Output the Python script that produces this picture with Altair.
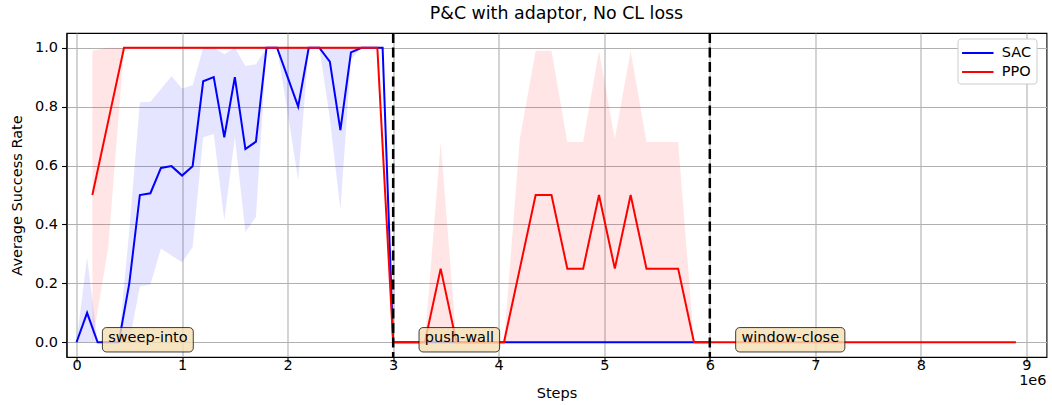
import altair as alt
import pandas as pd

# ---------------- data (steps in units of 1e6) ----------------
sac_steps = [0.0, 0.1, 0.2, 0.3, 0.4, 0.5, 0.6, 0.7, 0.8, 0.9, 1.0, 1.1, 1.2, 1.3, 1.4, 1.5,
             1.6, 1.7, 1.8, 1.9, 2.0, 2.1, 2.2, 2.3, 2.4, 2.5, 2.6, 2.7, 2.8, 2.9, 3.0, 6.0]
sac_mean = [0, 0.1, 0, 0, 0, 0.2, 0.5, 0.506, 0.592, 0.598, 0.566, 0.598, 0.886, 0.9, 0.696, 0.9,
            0.656, 0.681, 1, 1, 0.9, 0.8, 1, 1, 0.953, 0.72, 0.984, 1, 1, 1, 0, 0]
sac_low = [0, 0, 0, 0, 0, 0, 0.19, 0.195, 0.318, 0.295, 0.272, 0.323, 0.696, 0.707, 0.414, 0.696,
           0.374, 0.425, 1, 1, 0.78, 0.55, 1, 1, 0.76, 0.45, 0.96, 1, 1, 1, 0, 0]
sac_high = [0, 0.289, 0, 0, 0, 0.38, 0.815, 0.817, 0.86, 0.903, 0.862, 0.873, 1, 1, 0.978, 1,
            0.938, 0.944, 1, 1, 1, 1, 1, 1, 1, 1, 1, 1, 1, 1, 0, 0]

ppo_steps = [0.15, 0.3, 0.45, 2.85, 3.0, 3.3, 3.45, 3.6, 4.05, 4.2, 4.35, 4.5, 4.65, 4.8, 4.95,
             5.1, 5.25, 5.4, 5.55, 5.7, 5.85, 8.9]
ppo_mean = [0.5, 0.75, 1, 1, 0, 0, 0.25, 0, 0, 0.25, 0.5, 0.5, 0.25, 0.25, 0.5,
            0.25, 0.5, 0.25, 0.25, 0.25, 0, 0]
ppo_low = [0, 0.32, 1, 1, 0, 0, 0, 0, 0, 0, 0, 0, 0, 0, 0,
           0, 0, 0, 0, 0, 0, 0]
ppo_high = [0.99, 1, 1, 1, 0, 0, 0.68, 0, 0, 0.69, 0.99, 0.99, 0.68, 0.68, 0.99,
            0.69, 0.99, 0.68, 0.68, 0.68, 0, 0]

algos = ["SAC", "PPO"]
algo_colors = ["blue", "red"]

tasks = ["sweep-into", "push-wall", "window-close"]
task_starts = [0, 3, 6]
task_switches = [3, 6]

x_ticks = [0, 1, 2, 3, 4, 5, 6, 7, 8, 9]
y_ticks = [0.0, 0.2, 0.4, 0.6, 0.8, 1.0]
x_exponent = ["1e6"]

title = "P&C with adaptor, No CL loss"

# ---------------- styles ----------------
FONT = "DejaVu Sans"
FS = 14.5
LABEL_DX = 0.3
TEXT_W = {"sweep-into": 79.3, "push-wall": 69.0, "window-close": 97.6}
W, H = 980, 324

sac = pd.DataFrame({"step": sac_steps, "mean": sac_mean, "low": sac_low,
                    "high": sac_high, "algo": "SAC"})
ppo = pd.DataFrame({"step": ppo_steps, "mean": ppo_mean, "low": ppo_low,
                    "high": ppo_high, "algo": "PPO"})

x_scale = alt.Scale(domain=[-0.095, 9.19], nice=False, zero=False)
y_scale = alt.Scale(domain=[-0.05, 1.05], nice=False, zero=False)
x_axis = alt.Axis(values=x_ticks, format="d", title="Steps", grid=True)
y_axis = alt.Axis(values=y_ticks, format=".1f", title="Average Success Rate", grid=True)

X = alt.X("step:Q", scale=x_scale, axis=x_axis)


def Y(field):
    return alt.Y(f"{field}:Q", scale=y_scale, axis=y_axis)


color = alt.Color(
    "algo:N",
    scale=alt.Scale(domain=algos, range=algo_colors),
    legend=alt.Legend(
        title=None, orient="none", legendX=891, legendY=5.5,
        symbolType="M-1.75,0L1.75,0", symbolSize=324, symbolStrokeWidth=2,
        symbolOffset=5.8, labelOffset=14, labelFont=FONT, labelFontSize=FS,
        labelColor="black", fillColor="white", strokeColor="#cccccc",
        cornerRadius=3, padding=4.5, rowPadding=2,
    ),
)

band_sac = alt.Chart(sac).mark_area(color="blue", opacity=0.1).encode(
    x=X, y=Y("low"), y2="high:Q")
band_ppo = alt.Chart(ppo).mark_area(color="red", opacity=0.1).encode(
    x=X, y=Y("low"), y2="high:Q")
line_sac = alt.Chart(sac).mark_line(strokeWidth=2).encode(x=X, y=Y("mean"), color=color)
line_ppo = alt.Chart(ppo).mark_line(strokeWidth=2).encode(x=X, y=Y("mean"), color=color)

rules = alt.Chart(pd.DataFrame({"step": task_switches})).mark_rule(
    color="black", strokeWidth=2.5, strokeDash=[10, 4.5]).encode(x=X)

ann = pd.DataFrame({"step": [s + LABEL_DX for s in task_starts],
                    "mean": [0.0] * len(tasks), "task": tasks})

boxes = []
for t in tasks:
    boxes.append(
        alt.Chart(ann).transform_filter(alt.datum.task == t).mark_rect(
            fill="#f5deb3", fillOpacity=0.8, stroke="black", strokeOpacity=0.75,
            strokeWidth=1, cornerRadius=4,
            xOffset=-5.8, x2Offset=TEXT_W[t] + 5.8, yOffset=-14.7, y2Offset=9.7,
        ).encode(x=X, x2="step:Q", y=Y("mean"), y2="mean:Q")
    )

texts = alt.Chart(ann).mark_text(
    align="left", baseline="alphabetic", font=FONT, fontSize=FS, color="black"
).encode(x=X, y=Y("mean"), text="task:N")

expo = alt.Chart(pd.DataFrame({"t": x_exponent})).mark_text(
    align="right", baseline="middle", font=FONT, fontSize=FS, color="black"
).encode(x=alt.value(W), y=alt.value(348), text="t:N")

chart = alt.layer(
    band_sac, band_ppo, line_sac, line_ppo, rules, *boxes, texts, expo
).properties(
    width=W, height=H,
    title=alt.TitleParams(title, font=FONT, fontSize=17.4, fontWeight="normal",
                          anchor="middle", baseline="middle", offset=0, color="black"),
    autosize=alt.AutoSizeParams(type="none"),
    padding={"left": 66.5, "top": 33, "right": 5.5, "bottom": 48},
).configure_axis(
    labelFont=FONT, titleFont=FONT, labelFontSize=FS, titleFontSize=FS,
    titleFontWeight="normal", labelColor="black", titleColor="black",
    tickColor="black", domainColor="black", domainWidth=1.1, tickWidth=1.1,
    tickSize=5, gridColor="#b0b0b0", gridWidth=1.1, labelPadding=4,
).configure_axisX(
    labelBaseline="middle", labelPadding=3, titlePadding=15
).configure_axisY(titlePadding=10).configure_view(
    stroke="black", strokeWidth=1.1
)

chart.save("out.html", embed_options={"renderer": "svg", "actions": False})
